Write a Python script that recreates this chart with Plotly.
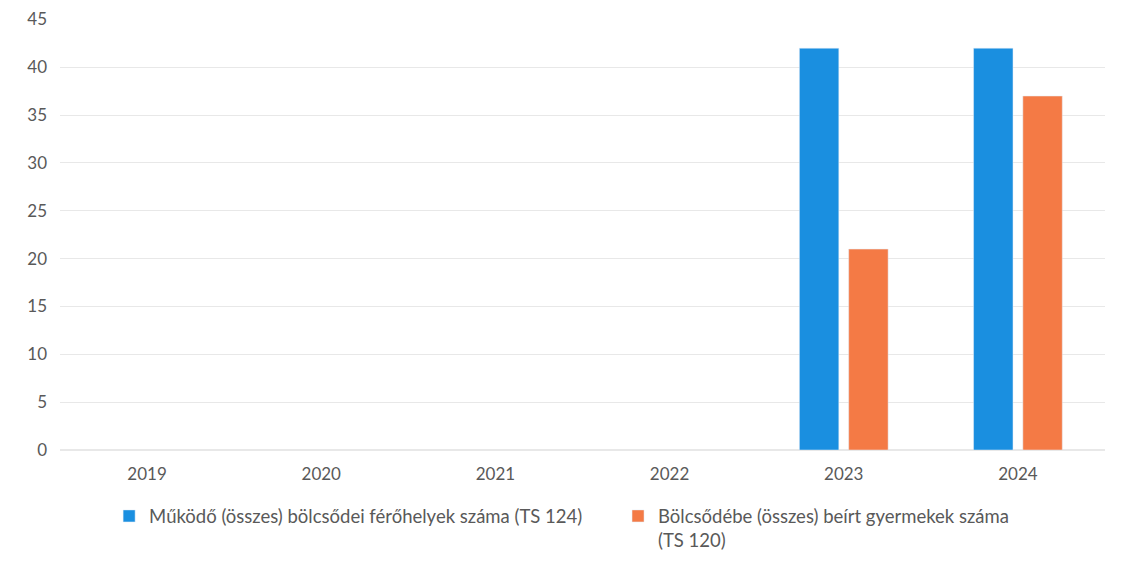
import plotly.graph_objects as go

years = ["2019", "2020", "2021", "2022", "2023", "2024"]
ferohely = [None, None, None, None, 42, 42]
beirt = [None, None, None, None, 21, 37]
series_names = [
    "Működő (összes) bölcsődei férőhelyek száma (TS 124)",
    "Bölcsődébe (összes) beírt gyermekek száma<br>(TS 120)",
]
colors = ["#1a8fe0", "#f47a45"]

fig = go.Figure()
fig.add_trace(go.Bar(x=years, y=ferohely, name=series_names[0], marker_color=colors[0], legend="legend"))
fig.add_trace(go.Bar(x=years, y=beirt, name=series_names[1], marker_color=colors[1], legend="legend2"))

font = "Lato, Open Sans, sans-serif"
leg_common = dict(orientation="h", yanchor="top", xanchor="left", valign="top",
                  font=dict(size=18.5, color="#595959"), itemwidth=30,
                  bgcolor="rgba(0,0,0,0)")
fig.update_layout(
    width=1125, height=564,
    margin=dict(l=52, r=28, t=11, b=122, autoexpand=False),
    paper_bgcolor="white", plot_bgcolor="white",
    barmode="group", bargap=0.434, bargroupgap=0.2,
    font=dict(family=font, size=17, color="#595959"),
    showlegend=True,
    legend=dict(x=0.047, y=-0.11, **leg_common),
    legend2=dict(x=0.534, y=-0.11, **leg_common),
    xaxis=dict(showgrid=False, showline=False, ticks="", tickfont=dict(size=17),
               ticklabelstandoff=12, ticklabeloverflow="allow"),
    yaxis=dict(range=[0, 45.05], tick0=0, dtick=5, showgrid=True, gridcolor="#e8e8e8",
               zeroline=True, zerolinecolor="#e8e8e8", showline=False,
               tickfont=dict(size=17), ticklabelstandoff=12, ticklabeloverflow="allow"),
)
fig.write_html("out.html")
